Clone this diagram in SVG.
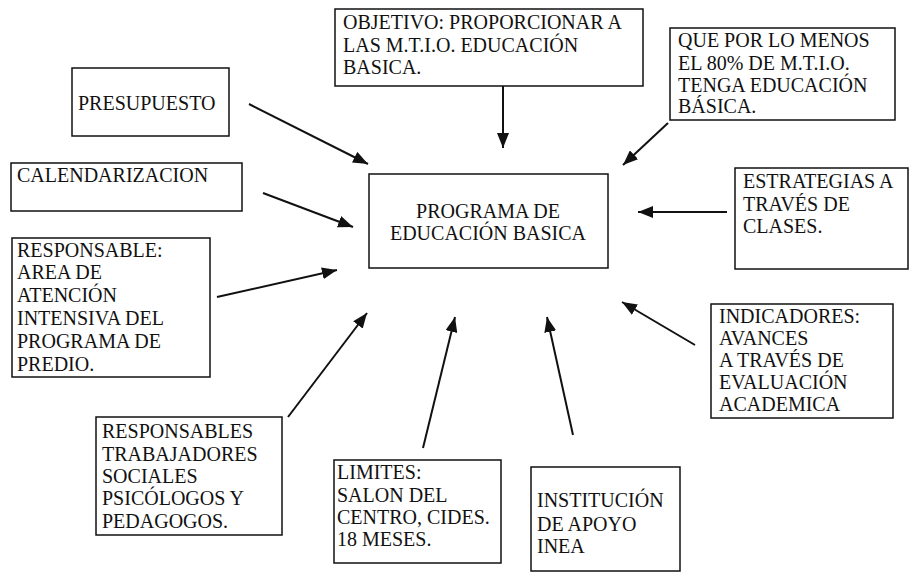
<svg xmlns="http://www.w3.org/2000/svg" width="911" height="572" viewBox="0 0 911 572">
<style>
.box{fill:#fff;stroke:#111;stroke-width:1.5}
text{font-family:"Liberation Serif","Times New Roman",serif;font-size:20px;fill:#111}
.c{text-anchor:middle}
.conn path{stroke:#111;stroke-width:2;fill:none;marker-end:url(#ah)}
</style>
<defs>
<marker id="ah" markerUnits="userSpaceOnUse" markerWidth="15" markerHeight="12" refX="15" refY="6" orient="auto">
<path d="M0,0 L15,6 L0,12 z" fill="#111"/>
</marker>
</defs>
<rect width="911" height="572" fill="#fff"/>

<g id="center">
<rect class="box" x="369" y="174" width="239" height="94"/>
<text class="c" x="488" y="218">PROGRAMA DE</text>
<text class="c" x="488" y="240">EDUCACIÓN BASICA</text>
</g>

<g id="objetivo">
<rect class="box" x="335" y="9" width="308" height="77"/>
<text x="343" y="29">OBJETIVO: PROPORCIONAR A</text>
<text x="343" y="52">LAS M.T.I.O. EDUCACIÓN</text>
<text x="343" y="74">BASICA.</text>
</g>

<g id="meta">
<rect class="box" x="670" y="28" width="225" height="92"/>
<text x="678" y="47">QUE POR LO MENOS</text>
<text x="678" y="70">EL 80% DE M.T.I.O.</text>
<text x="678" y="92">TENGA EDUCACIÓN</text>
<text x="678" y="113">BÁSICA.</text>
</g>

<g id="presupuesto">
<rect class="box" x="72" y="68" width="157" height="68"/>
<text x="78" y="110">PRESUPUESTO</text>
</g>

<g id="calendarizacion">
<rect class="box" x="11" y="163" width="231" height="48"/>
<text x="17" y="182">CALENDARIZACION</text>
</g>

<g id="responsable">
<rect class="box" x="12" y="238" width="198" height="139"/>
<text x="17" y="257">RESPONSABLE:</text>
<text x="17" y="279">AREA DE</text>
<text x="17" y="302">ATENCIÓN</text>
<text x="17" y="325">INTENSIVA DEL</text>
<text x="17" y="348">PROGRAMA DE</text>
<text x="17" y="371">PREDIO.</text>
</g>

<g id="estrategias">
<rect class="box" x="735" y="168" width="173" height="101"/>
<text x="743" y="188">ESTRATEGIAS A</text>
<text x="743" y="211">TRAVÉS DE</text>
<text x="743" y="233">CLASES.</text>
</g>

<g id="indicadores">
<rect class="box" x="711" y="304" width="182" height="114"/>
<text x="719" y="323">INDICADORES:</text>
<text x="719" y="345">AVANCES</text>
<text x="719" y="367">A TRAVÉS DE</text>
<text x="719" y="389">EVALUACIÓN</text>
<text x="719" y="411">ACADEMICA</text>
</g>

<g id="responsables">
<rect class="box" x="96" y="417" width="186" height="118"/>
<text x="102" y="438">RESPONSABLES</text>
<text x="102" y="461">TRABAJADORES</text>
<text x="102" y="483">SOCIALES</text>
<text x="102" y="505">PSICÓLOGOS Y</text>
<text x="102" y="528">PEDAGOGOS.</text>
</g>

<g id="limites">
<rect class="box" x="334" y="460" width="167" height="103"/>
<text x="337" y="479">LIMITES:</text>
<text x="337" y="502">SALON DEL</text>
<text x="337" y="524">CENTRO, CIDES.</text>
<text x="337" y="546">18 MESES.</text>
</g>

<g id="institucion">
<rect class="box" x="531" y="467" width="149" height="104"/>
<text x="537" y="507">INSTITUCIÓN</text>
<text x="537" y="531">DE APOYO</text>
<text x="537" y="553">INEA</text>
</g>

<g class="conn" id="connectors">
<path d="M249,104 L368,164"/>
<path d="M263,193 L353,227"/>
<path d="M217,297 L337,270"/>
<path d="M503,86 L503,148"/>
<path d="M668,123 L623,165"/>
<path d="M727,212 L638,212"/>
<path d="M695,345 L622,302"/>
<path d="M288,417 L367,313"/>
<path d="M423,448 L455,317"/>
<path d="M573,435 L547,317"/>
</g>
</svg>
